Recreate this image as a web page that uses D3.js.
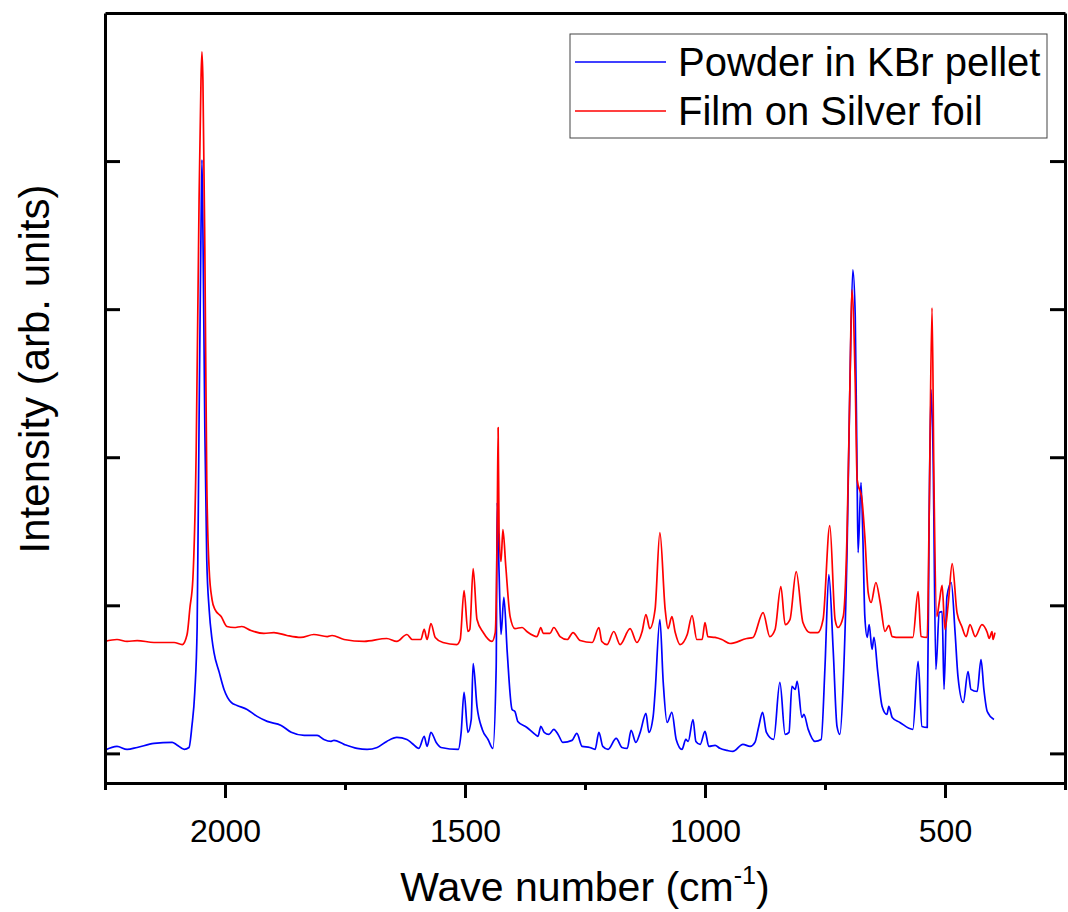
<!DOCTYPE html>
<html>
<head>
<meta charset="utf-8">
<script src="https://cdn.jsdelivr.net/npm/d3@7/dist/d3.min.js"></script>
<style>
  html, body { margin: 0; padding: 0; background: #fff; }
  svg { display: block; font-family: "Liberation Sans", Arial, sans-serif; }
</style>
</head>
<body>
<svg id="chart" width="1068" height="912"></svg>
<script>
// Infrared spectra: wave number (cm^-1) vs. intensity (arbitrary units)
const powderWave = [2250,2225,2204,2183,2148,2110,2101,2085,2075,2069,2063,2058,2054,2050,2048,2046,2042,2038,2033,2027,2023,2012,2002,1987,1975,1954,1933,1912,1883,1862,1835,1808,1794,1779,1773,1752,1725,1704,1683,1663,1642,1621,1610,1596,1585,1579,1571,1560,1550,1514,1508,1502,1494,1487,1483,1475,1464,1452,1442,1435,1433,1429,1425,1419,1412,1402,1396,1390,1371,1354,1348,1342,1335,1325,1315,1306,1296,1277,1267,1256,1240,1229,1221,1213,1202,1185,1173,1162,1154,1144,1135,1123,1117,1108,1104,1094,1087,1079,1069,1060,1048,1040,1035,1025,1019,1010,1000,992,979,969,954,942,921,906,896,888,880,872,857,844,833,825,819,812,808,798,794,785,771,758,750,742,733,725,719,712,704,698,692,687,683,681,675,671,667,662,658,652,648,640,631,621,617,610,594,567,556,548,537,533,529,525,519,512,506,502,496,487,479,473,462,452,446,433,425,419,412,398];
const powderIntensity = [0.022,0.047,0.027,0.040,0.067,0.074,0.059,0.027,0.040,0.182,0.412,0.857,2.254,3.536,4.008,3.536,2.186,1.309,0.972,0.769,0.682,0.547,0.432,0.344,0.324,0.297,0.250,0.216,0.189,0.142,0.121,0.121,0.094,0.081,0.088,0.061,0.034,0.027,0.040,0.081,0.108,0.094,0.067,0.034,0.115,0.047,0.142,0.074,0.040,0.027,0.142,0.412,0.142,0.229,0.607,0.317,0.162,0.094,0.034,0.587,1.694,1.221,0.803,1.053,0.682,0.297,0.283,0.216,0.175,0.128,0.115,0.182,0.142,0.128,0.162,0.128,0.074,0.088,0.135,0.047,0.040,0.027,0.142,0.047,0.027,0.101,0.040,0.034,0.155,0.074,0.142,0.270,0.142,0.250,0.412,0.904,0.479,0.209,0.277,0.094,0.027,0.094,0.081,0.229,0.081,0.061,0.148,0.047,0.054,0.034,0.020,0.013,0.061,0.047,0.074,0.182,0.277,0.142,0.094,0.479,0.128,0.142,0.452,0.432,0.486,0.243,0.263,0.162,0.081,0.094,0.587,1.208,0.702,0.182,0.128,0.479,1.377,2.503,3.266,2.949,1.829,1.356,1.829,1.444,0.924,0.783,0.870,0.702,0.783,0.547,0.317,0.263,0.317,0.243,0.209,0.162,0.621,0.182,0.175,1.599,2.456,2.051,0.567,0.951,0.958,0.432,1.059,1.154,0.816,0.520,0.344,0.553,0.432,0.418,0.634,0.432,0.283,0.229];

const filmWave = [2250,2225,2204,2183,2148,2106,2089,2079,2073,2067,2060,2054,2050,2048,2046,2042,2038,2033,2027,2021,2008,1996,1981,1965,1946,1919,1898,1871,1842,1815,1787,1777,1752,1710,1663,1642,1621,1610,1592,1585,1579,1571,1562,1546,1517,1510,1502,1494,1490,1483,1475,1462,1444,1437,1433,1431,1429,1425,1421,1415,1406,1396,1381,1371,1350,1342,1337,1323,1315,1302,1287,1275,1260,1235,1221,1215,1204,1190,1177,1156,1142,1131,1123,1115,1104,1094,1083,1077,1069,1062,1052,1037,1027,1017,1006,1000,994,979,965,948,913,900,879,865,854,842,833,823,810,796,781,765,754,740,729,723,712,704,698,694,687,683,673,667,660,654,644,635,625,617,610,594,567,556,550,537,533,527,523,517,512,506,500,493,485,475,465,456,448,437,423,412,408,402,400,396];
const filmIntensity = [0.756,0.769,0.756,0.762,0.749,0.749,0.735,0.803,0.985,1.174,2.051,3.738,4.548,4.737,4.548,3.401,1.849,1.242,1.039,0.972,0.924,0.857,0.850,0.857,0.830,0.810,0.816,0.796,0.783,0.803,0.789,0.796,0.769,0.756,0.776,0.756,0.803,0.769,0.769,0.837,0.769,0.877,0.783,0.749,0.735,0.769,1.100,0.823,0.837,1.248,0.904,0.816,0.756,0.816,1.491,2.200,1.491,1.296,1.511,1.262,0.924,0.843,0.850,0.823,0.789,0.850,0.810,0.810,0.850,0.789,0.769,0.816,0.762,0.749,0.850,0.756,0.735,0.823,0.735,0.843,0.749,0.823,0.938,0.843,0.972,1.491,0.972,0.843,0.924,0.816,0.735,0.803,0.931,0.769,0.769,0.884,0.789,0.783,0.769,0.742,0.776,0.783,0.951,0.789,0.837,1.127,0.870,0.904,1.228,0.884,0.816,0.816,0.904,1.538,0.904,0.850,0.924,1.491,2.503,3.131,2.503,1.849,1.714,1.464,1.086,1.019,1.154,1.019,0.823,0.864,0.789,0.783,0.783,1.093,0.789,0.783,1.599,3.009,1.829,0.924,1.019,1.134,0.837,1.019,1.282,0.951,0.857,0.789,0.870,0.789,0.870,0.816,0.776,0.823,0.769,0.816];

const seriesNames = ["Powder in KBr pellet", "Film on Silver foil"];
const seriesColors = ["#0000ff", "#ff0000"];
const xMajorTicks = [2000, 1500, 1000, 500];
const xMinorTicks = [2250, 1750, 1250, 750, 250];
const yTicks = [0, 1, 2, 3, 4];

const svg = d3.select("#chart");
const margin = { left: 105, right: 3, top: 13, bottom: 129 };
const W = 1068, H = 912;
const x0 = margin.left, x1 = W - margin.right, y0 = margin.top, y1 = H - margin.bottom;

const x = d3.scaleLinear().domain([2250, 250]).range([x0, x1]);
const y = d3.scaleLinear().domain([-0.2, 5.0]).range([y1, y0]);

// spectra
const line = d3.line().x(d => x(d[0])).y(d => y(d[1])).curve(d3.curveMonotoneX);
const series = [
  d3.zip(powderWave, powderIntensity),
  d3.zip(filmWave, filmIntensity)
];
svg.append("g").selectAll("path").data(series).join("path")
  .attr("fill", "none")
  .attr("stroke", (d, i) => seriesColors[i])
  .attr("stroke-width", 1.7)
  .attr("stroke-linejoin", "round")
  .attr("d", line);

// axes
function styleAxis(g) {
  g.selectAll(".domain").attr("stroke", "#000").attr("stroke-width", 3);
  g.selectAll(".tick line").attr("stroke", "#000").attr("stroke-width", 3);
}

svg.append("g")
  .attr("transform", `translate(0,${y1})`)
  .call(d3.axisBottom(x).tickValues(xMinorTicks).tickSizeInner(7).tickSizeOuter(0).tickFormat(""))
  .call(styleAxis);

const bottom = svg.append("g")
  .attr("transform", `translate(0,${y1})`)
  .call(d3.axisBottom(x).tickValues(xMajorTicks).tickSizeInner(15).tickSizeOuter(0).tickPadding(21).tickFormat(d3.format("d")))
  .call(styleAxis);
bottom.selectAll(".tick text")
  .attr("font-family", "'Liberation Sans', Arial, sans-serif")
  .attr("font-size", 32).attr("fill", "#000");

svg.append("g")
  .attr("transform", `translate(${x0},0)`)
  .call(d3.axisRight(y).tickValues(yTicks).tickSizeInner(15).tickSizeOuter(0).tickFormat(""))
  .call(styleAxis);

svg.append("g")
  .attr("transform", `translate(${x1},0)`)
  .call(d3.axisLeft(y).tickValues(yTicks).tickSizeInner(15).tickSizeOuter(0).tickFormat(""))
  .call(styleAxis);

svg.append("g")
  .attr("transform", `translate(0,${y0})`)
  .call(d3.axisTop(x).tickValues([]).tickSizeOuter(0))
  .call(styleAxis);

// axis titles
const xt = svg.append("text")
  .attr("x", (x0 + x1) / 2).attr("y", 901)
  .attr("text-anchor", "middle").attr("font-size", 41).attr("fill", "#000");
xt.append("tspan").text("Wave number (cm");
xt.append("tspan").attr("font-size", 25).attr("dy", -17).text("-1");
xt.append("tspan").attr("dy", 17).text(")");

svg.append("text")
  .attr("transform", "translate(49,369) rotate(-90)")
  .attr("text-anchor", "middle").attr("font-size", 42).attr("fill", "#000")
  .text("Intensity (arb. units)");

// legend
const legend = svg.append("g");
legend.append("rect")
  .attr("x", 570).attr("y", 34).attr("width", 477).attr("height", 104)
  .attr("fill", "#fff").attr("stroke", "#444").attr("stroke-width", 1);
seriesNames.forEach((name, i) => {
  const ly = 62 + i * 49;
  legend.append("line")
    .attr("x1", 575).attr("x2", 666).attr("y1", ly).attr("y2", ly)
    .attr("stroke", seriesColors[i]).attr("stroke-width", 1.7);
  legend.append("text")
    .attr("x", 678).attr("y", ly + 14)
    .attr("font-size", 40).attr("fill", "#000")
    .text(name);
});
</script>
</body>
</html>
